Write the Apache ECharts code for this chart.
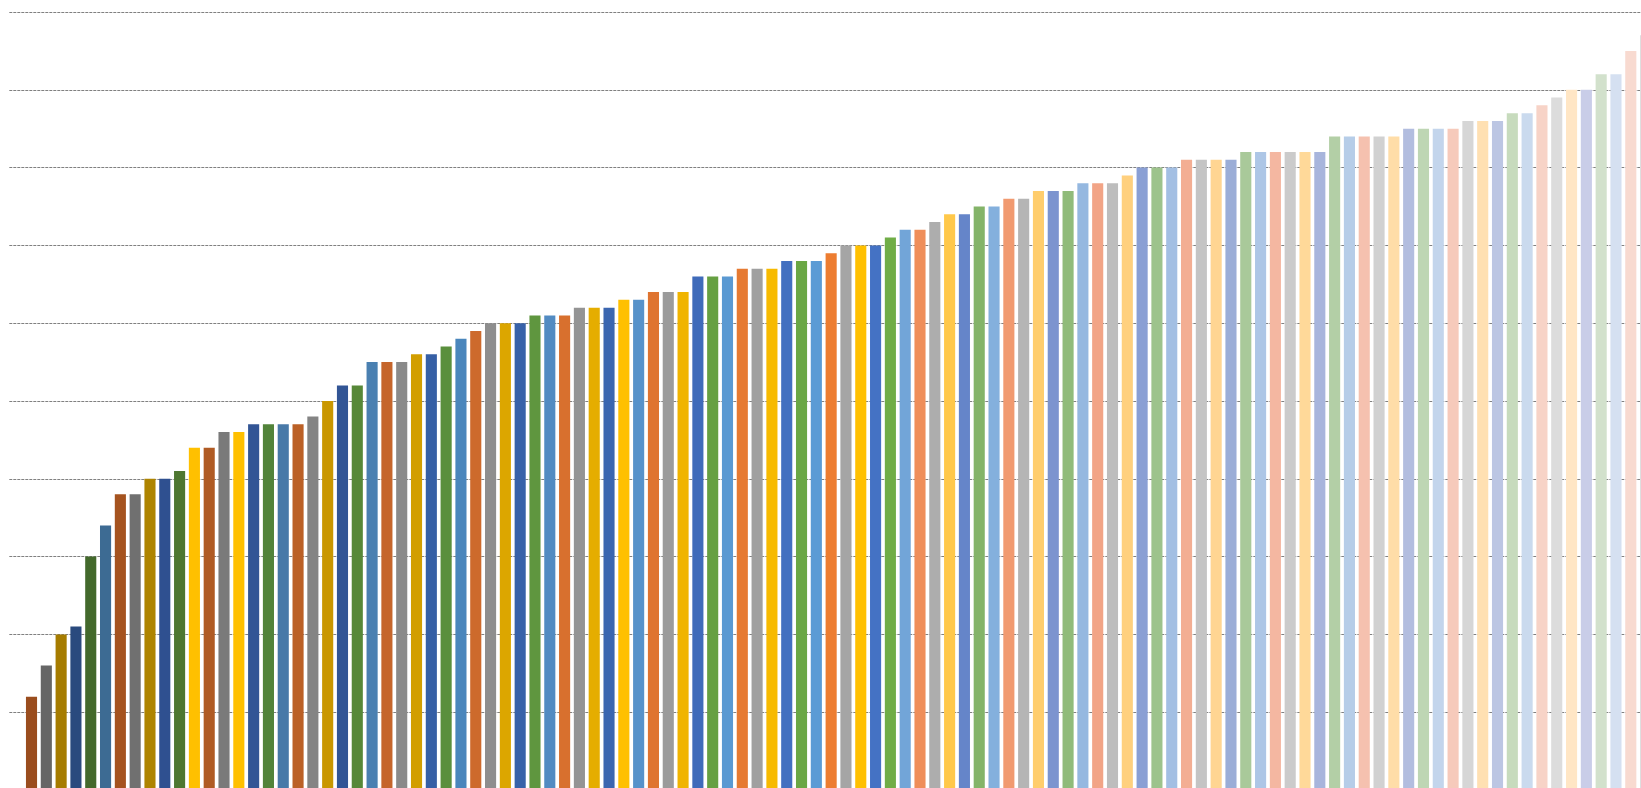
<!DOCTYPE html>
<html>
<head>
<meta charset="utf-8">
<script src="https://cdn.jsdelivr.net/npm/echarts/dist/echarts.min.js"></script>
<style>
html,body{margin:0;padding:0;background:#fff;}
#chart{width:1641px;height:788px;}
</style>
</head>
<body>
<div id="chart"></div>
<script>
// Values (gridline step = 10 units); first category is an empty slot
const values = [
  12,16,20,21,30,34,38,38,40,40,
  41,44,44,46,46,47,47,47,47,48,
  50,52,52,55,55,55,56,56,57,58,
  59,60,60,60,61,61,61,62,62,62,
  63,63,64,64,64,66,66,66,67,67,
  67,68,68,68,69,70,70,70,71,72,
  72,73,74,74,75,75,76,76,77,77,
  77,78,78,78,79,80,80,80,81,81,
  81,81,82,82,82,82,82,82,84,84,
  84,84,84,85,85,85,85,86,86,86,
  87,87,88,89,90,90,92,92,95,97
];
const yTicks = [0,10,20,30,40,50,60,70,80,90,100];

// Per-bar colours (style)
const barColors = [
  '#9A4D1E','#666666','#A67C00','#2A4A7E','#43692C','#3D6B93','#A5531F','#707070','#AE8400','#2F5090',
  '#4E7731','#FFC000','#B05B24','#7A7A7A','#FFC000','#325595','#52833A','#4879A8','#BB6026','#848484',
  '#C99700','#325595','#578838','#4A80B1','#C5652B','#8A8A8A','#D29E00','#365FA5','#5A8F3D','#4A86BC',
  '#CD6A2C','#8E8E8E','#DCA600','#3862A9','#5F963F','#528BC2','#D8702E','#949494','#E5AD00','#3B66B0',
  '#FFC000','#5792CA','#DF7430','#9B9B9B','#F0B400','#3F6BBA','#66A042','#5A99D2','#E67A32','#A0A0A0',
  '#F7BA00','#4370C0','#6AA744','#5B9BD5','#ED7D31','#A5A5A5','#FFC000','#4472C4','#70AD47','#72A5D8',
  '#EF8E5A','#ADADAD','#FFC84A','#6585C9','#84B469','#84B0DD','#F19A70','#B5B5B5','#FFCD6C','#7C94CF',
  '#90BB7A','#95B8E0','#F2A486','#BDBDBD','#FFD07E','#8A9FD4','#9DC38C','#A3BFE3','#F3AE93','#C4C4C4',
  '#FFD592','#9BADD7','#A9C99A','#ADC6E6','#F4B7A1','#CBCBCB','#FFD999','#A8B5DC','#B3CFA6','#B6CDE8',
  '#F5C1AF','#D1D1D1','#FFDDA8','#B2BDDF','#BED6B4','#C3D5EC','#F6CABB','#D6D6D6','#FFE0B2','#BCC6E3',
  '#C7DBBD','#CADAEE','#F7D3C7','#DCDCDC','#FFE6C5','#C9CDE8','#D2E1CC','#D5E0F1','#F8DAD0','#DDDDDD'
];

const categories = [''].concat(values.map((v, i) => 'P' + (i + 1)));
const seriesData = [null].concat(values.map((v, i) => ({
  value: v,
  itemStyle: { color: barColors[i] }
})));

const chart = echarts.init(document.getElementById('chart'), null, { renderer: 'canvas' });
chart.setOption({
  animation: false,
  backgroundColor: '#ffffff',
  grid: {
    left: 9.3, width: 1643.7, top: 12, height: 778,
    containLabel: false,
    outerBoundsMode: 'none'
  },
  xAxis: {
    type: 'category',
    data: categories,
    axisLine: { show: false },
    axisTick: { show: false },
    axisLabel: { show: false },
    splitLine: { show: false }
  },
  yAxis: {
    type: 'value',
    min: yTicks[0],
    max: yTicks[yTicks.length - 1],
    interval: yTicks[1] - yTicks[0],
    axisLine: { show: false },
    axisTick: { show: false },
    axisLabel: { show: false },
    splitLine: { show: true, lineStyle: { color: '#808080', width: 1, type: [3, 1] } }
  },
  series: [{
    type: 'bar',
    data: seriesData,
    barCategoryGap: '25%',
    itemStyle: { borderWidth: 0 }
  }]
});
</script>
</body>
</html>
